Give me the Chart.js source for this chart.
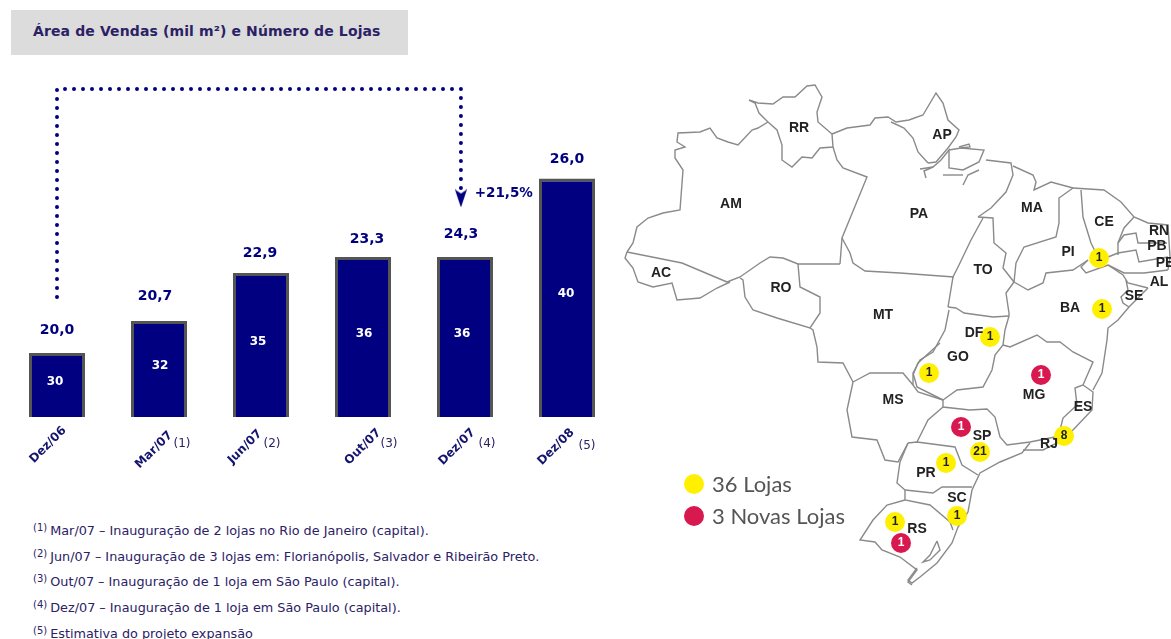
<!DOCTYPE html>
<html lang="pt">
<head>
<meta charset="utf-8">
<title>Área de Vendas e Número de Lojas</title>
<script src="https://cdn.jsdelivr.net/npm/chart.js@4"></script>
<style>
  html, body { margin: 0; padding: 0; background: #fff; width: 1171px; height: 639px; overflow: hidden; }
  canvas { position: absolute; }
  /* both canvases stick out by 20px, the padding has to beat chart.js' point overflow */
  #bars { left: -20px; top: 0; }
  #map { left: 600px; top: 60px; }
  .title {
    position: absolute; left: 11px; top: 10px; width: 397px; height: 45px; background: #dcdcdc;
    font: bold 14px "DejaVu Sans", sans-serif; letter-spacing: 0.12px; color: #2b2165; line-height: 43px; padding-left: 22px; box-sizing: border-box;
  }
  .notes { position: absolute; left: 33px; top: 518px; font: 12.8px "DejaVu Sans", sans-serif; color: #2b2165; }
  .notes div { height: 25.7px; line-height: 25.7px; white-space: nowrap; }
  .notes sup { font-size: 10px; line-height: 0; vertical-align: 4px; margin-right: -1px; }
</style>
</head>
<body>
<div class="title">Área de Vendas (mil m²) e Número de Lojas</div>
<canvas id="bars" width="660" height="500"></canvas>
<canvas id="map" width="591" height="560"></canvas>
<div class="notes">
  <div><sup>(1)</sup> Mar/07 – Inauguração de 2 lojas no Rio de Janeiro (capital).</div>
  <div><sup>(2)</sup> Jun/07 – Inauguração de 3 lojas em: Florianópolis, Salvador e Ribeirão Preto.</div>
  <div><sup>(3)</sup> Out/07 – Inauguração de 1 loja em São Paulo (capital).</div>
  <div><sup>(4)</sup> Dez/07 – Inauguração de 1 loja em São Paulo (capital).</div>
  <div><sup>(5)</sup> Estimativa do projeto expansão</div>
</div>
<script>
// Bar chart data
const categories = ["Dez/06", "Mar/07", "Jun/07", "Out/07", "Dez/07", "Dez/08"];
const salesArea = [20.0, 20.7, 22.9, 23.3, 24.3, 26.0];
const storeCounts = [30, 32, 35, 36, 36, 40];
// the source draws bars by store count, but its last bar is taller than its label says
const barLevels = [30, 32, 35, 36, 36, 40.9];
const footnoteMarks = ["", "(1)", "(2)", "(3)", "(4)", "(5)"];
const growthPath = [{ x: 0, y: 33.5 }, { x: 0, y: 46.5 }, { x: 3.96, y: 46.5 }, { x: 3.96, y: 39.66 }];
const growthLabel = "+21,5%";

// Hand placement of the bar labels, the source is not regular about them (px)
const areaLabelShift = [[0, 23], [-4, 25], [-1, 20], [4, 18], [-4, 23], [0, 19]];
const countLabelShift = [-2, 1, -3, 1, -3, -1];
const tickLabelShift = [[-9, 28], [-5, 33], [-16, 30], [0, 30], [-8, 30], [-11, 30]];
const noteLabelShift = [[0, 0], [23, 27], [11, 27], [26, 27], [22, 27], [20, 29]];

// Map data, in the coordinates of the picture
const mapBorders = [
  [[749,100],[758,103],[773,104],[783,97],[795,97],[807,86],[815,85],[822,97],[817,112],[818,122],[832,134],[833,147],[820,148],[812,158],[802,157],[792,167],[782,160],[782,145],[777,130],[768,122],[759,113],[755,103],[749,100]],
  [[768,122],[758,128],[752,130],[738,145],[728,142],[717,138],[710,128],[700,132],[678,133],[677,142],[685,147],[675,150],[675,158],[683,170],[680,210],[663,213],[648,218],[637,227],[633,243],[627,252]],
  [[627,252],[682,263],[727,282]],
  [[627,252],[625,258],[633,268],[638,282],[653,287],[672,283],[677,300],[700,298],[717,288],[730,282]],
  [[727,282],[740,277],[760,263],[770,257],[783,258],[798,264],[840,264]],
  [[740,278],[743,280],[745,297],[753,310],[777,318],[810,328],[820,313],[820,297],[800,287],[798,264]],
  [[810,328],[813,330],[817,347],[818,362],[843,363],[853,382]],
  [[833,147],[837,160],[843,168],[867,177],[842,238],[840,264]],
  [[842,238],[850,253],[853,263],[865,271],[900,273],[954,277]],
  [[832,134],[847,128],[870,125],[875,118],[888,117],[896,122],[909,120],[923,115],[936,93],[943,103],[948,120],[959,130],[956,137],[948,148],[936,162],[928,163]],
  [[891,122],[904,128],[913,138],[918,152],[928,163]],
  [[920,169],[933,167],[941,160],[949,150],[949,168],[963,170],[979,162],[984,150],[961,148],[949,150]],
  [[959,147],[969,144],[970,147],[961,148]],
  [[926,178],[924,171],[933,167]],
  [[943,175],[963,175]],
  [[963,185],[968,175],[979,170]],
  [[986,160],[1011,163],[1013,175],[1006,192],[991,208],[978,217]],
  [[983,218],[971,240],[959,265],[953,277],[948,307]],
  [[978,217],[993,218],[994,243],[1006,253],[1003,268],[1014,282]],
  [[1013,166],[1033,175],[1036,182],[1034,190],[1051,182],[1073,188]],
  [[1073,188],[1059,198],[1059,223],[1056,237],[1024,247],[1016,263],[1014,282]],
  [[1081,190],[1083,217],[1091,243],[1098,257]],
  [[1073,188],[1104,190],[1121,202],[1134,217],[1148,223],[1168,225],[1170,257],[1168,270]],
  [[1134,217],[1124,228],[1118,243],[1118,255]],
  [[1118,243],[1124,235],[1136,233],[1138,243],[1148,243],[1167,243]],
  [[1108,257],[1118,253],[1136,250],[1139,262],[1168,257]],
  [[1108,265],[1124,273],[1144,273],[1168,270]],
  [[1014,282],[1028,290],[1043,283],[1046,273],[1073,270],[1088,260]],
  [[1088,260],[1081,267],[1086,273],[1108,265],[1123,275],[1128,283],[1148,288]],
  [[1126,280],[1128,290],[1121,297],[1123,303],[1129,307]],
  [[1148,288],[1129,307],[1118,320],[1108,328],[1107,340],[1102,373],[1093,390]],
  [[1014,282],[1006,293],[1009,313],[1009,316],[1005,330],[1003,345],[995,355],[992,370],[983,387],[957,390],[943,400]],
  [[948,307],[956,308],[964,313],[993,317],[1009,316]],
  [[949,310],[945,330],[933,352],[920,360],[913,373],[917,387],[943,400]],
  [[1003,345],[1010,347],[1037,335],[1047,342],[1060,342],[1073,352],[1093,362],[1083,385],[1075,388],[1077,405],[1063,418],[1060,430]],
  [[1083,385],[1093,392],[1092,410],[1073,430],[1063,437],[1057,443],[1043,450],[1023,450]],
  [[1030,443],[1022,453],[1000,462],[980,473],[972,490],[968,512],[958,527],[952,543],[937,563],[920,577],[912,583],[908,580],[917,568]],
  [[1055,437],[1030,442],[1007,445],[1000,437],[995,417],[987,409],[970,410],[943,407],[943,400]],
  [[943,407],[928,420],[917,442]],
  [[908,443],[917,442],[955,447],[962,465],[978,475]],
  [[972,487],[942,487],[933,493],[905,490]],
  [[908,443],[900,462],[897,483],[905,490],[905,500],[930,505],[950,522],[953,530]],
  [[905,500],[887,505],[873,520],[860,540],[875,542],[882,550],[900,557],[917,570],[908,582],[912,585]],
  [[937,541],[930,555],[923,562],[930,560],[940,550],[937,541]],
  [[853,382],[870,373],[903,373],[913,385],[918,392],[943,400]],
  [[853,382],[847,410],[852,437],[877,440],[885,460],[898,462],[908,443]],
  [[913,385],[913,375],[918,363],[940,343]],
];
const stateNames = ["AM", "RR", "AP", "PA", "MA", "CE", "RN", "PB", "PE", "AL", "SE", "PI", "BA", "TO", "AC", "RO", "MT", "DF", "GO", "MS", "MG", "ES", "RJ", "SP", "PR", "SC", "RS"];
const stateLabelX = [731, 799, 942, 919, 1032, 1104, 1159, 1157, 1165, 1159, 1134, 1068, 1070, 983, 661, 781, 883, 974, 958, 893, 1034, 1083, 1049, 982, 926, 957, 917];
const stateLabelY = [204, 128, 135, 214, 208, 222, 231, 246, 263, 282, 296, 252, 308, 270, 273, 288, 315, 333, 357, 400, 395, 407, 444, 436, 473, 498, 529];
const storeX = [1099, 1102, 990, 929, 980, 1064, 946, 957, 895];
const storeY = [258, 309, 337, 373, 452, 436, 463, 516, 522];
const storeNums = [1, 1, 1, 1, 21, 8, 1, 1, 1];
const newStoreX = [961, 1041, 901];
const newStoreY = [427, 375, 543];
const newStoreNums = [1, 1, 1];
const legendItems = ["36 Lojas", "3 Novas Lojas"];
const legendX = [694, 694];
const legendY = [484, 516];

const navy = "#000080";

// narrow arrow head for the end of the dotted path
const arrowHead = document.createElement("canvas");
arrowHead.width = 12;
arrowHead.height = 18;
const arrowCtx = arrowHead.getContext("2d");
arrowCtx.fillStyle = navy;
arrowCtx.beginPath();
arrowCtx.moveTo(0, 0);
arrowCtx.lineTo(6, 4);
arrowCtx.lineTo(12, 0);
arrowCtx.lineTo(6, 18);
arrowCtx.closePath();
arrowCtx.fill();

const barLabels = {
  id: "barLabels",
  afterDatasetsDraw(chart) {
    const { ctx, scales } = chart;
    const x = scales.x, y = scales.y;
    ctx.save();
    ctx.textAlign = "center";
    ctx.textBaseline = "middle";
    categories.forEach((cat, i) => {
      const cx = x.getPixelForValue(i);
      const top = y.getPixelForValue(barLevels[i]);
      const bottom = y.getPixelForValue(y.min);

      ctx.fillStyle = navy;
      ctx.font = 'bold 14px "DejaVu Sans", sans-serif';
      ctx.fillText(salesArea[i].toFixed(1).replace(".", ","), cx + areaLabelShift[i][0], top - areaLabelShift[i][1]);

      ctx.fillStyle = "#fff";
      ctx.font = 'bold 12px "DejaVu Sans", sans-serif';
      ctx.fillText(String(storeCounts[i]), cx + countLabelShift[i], (top + bottom) / 2 - 3.5);

      ctx.save();
      ctx.translate(cx + tickLabelShift[i][0], bottom + tickLabelShift[i][1]);
      ctx.rotate(-Math.PI / 4);
      ctx.fillStyle = "#14146e";
      ctx.font = 'bold 12px "DejaVu Sans", sans-serif';
      ctx.fillText(cat, 0, 0);
      ctx.restore();

      if (footnoteMarks[i]) {
        ctx.fillStyle = "#2b2165";
        ctx.font = '12px "DejaVu Sans", sans-serif';
        ctx.fillText(footnoteMarks[i], cx + noteLabelShift[i][0], bottom + noteLabelShift[i][1]);
      }
    });
    ctx.fillStyle = navy;
    ctx.font = 'bold 13.5px "DejaVu Sans", sans-serif';
    ctx.fillText(growthLabel, scales.x2.getPixelForValue(4.38), y.getPixelForValue(39.94));
    ctx.restore();
  },
};

new Chart(document.getElementById("bars"), {
  type: "bar",
  data: {
    labels: categories,
    datasets: [
      {
        type: "line",
        data: growthPath,
        xAxisID: "x2",
        borderColor: navy,
        borderWidth: 4,
        borderDash: [0, 9],
        borderCapStyle: "round",
        tension: 0,
        pointStyle: arrowHead,
        pointRadius: [0, 0, 0, 9],
        pointBorderWidth: 0,
        clip: false,
      },
      {
        type: "bar",
        xAxisID: "x",
        data: barLevels,
        backgroundColor: navy,
        borderColor: "#555555",
        borderWidth: 3,
        borderSkipped: false,
        grouped: false,
        barPercentage: 56 / 102,
        categoryPercentage: 1,
      },
    ],
  },
  options: {
    responsive: false,
    animation: false,
    layout: { padding: { left: 26, right: 22, top: 81, bottom: 83 } },
    plugins: { legend: { display: false }, tooltip: { enabled: false } },
    scales: {
      x: { display: false },
      x2: { type: "linear", display: false, offset: false, min: -0.5, max: 5.5 },
      y: { display: false, min: 26, max: 47 },
    },
  },
  plugins: [barLabels],
});

const mapLabels = {
  id: "mapLabels",
  afterDatasetsDraw(chart) {
    const { ctx, scales } = chart;
    const px = (v) => scales.x.getPixelForValue(v);
    const py = (v) => scales.y.getPixelForValue(v);
    ctx.save();
    ctx.textAlign = "center";
    ctx.textBaseline = "middle";
    ctx.fillStyle = "#222";
    ctx.font = 'bold 14px "Liberation Sans", sans-serif';
    stateNames.forEach((s, i) => ctx.fillText(s, px(stateLabelX[i]), py(stateLabelY[i])));

    ctx.font = 'bold 12px "Liberation Sans", sans-serif';
    storeNums.forEach((n, i) => ctx.fillText(String(n), px(storeX[i]), py(storeY[i])));
    ctx.fillStyle = "#fff";
    newStoreNums.forEach((n, i) => ctx.fillText(String(n), px(newStoreX[i]), py(newStoreY[i])));

    ctx.textAlign = "left";
    ctx.fillStyle = "#555";
    ctx.font = '22px "Lato", sans-serif';
    legendItems.forEach((t, i) => ctx.fillText(t, px(legendX[i] + 18), py(legendY[i] + 1)));
    ctx.restore();
  },
};

const toPoints = (xs, ys) => xs.map((x, i) => ({ x, y: ys[i] }));
const markerSet = (xs, ys, color) => ({
  data: toPoints(xs, ys),
  showLine: false,
  pointRadius: 10,
  pointBackgroundColor: color,
  pointBorderWidth: 0,
});

new Chart(document.getElementById("map"), {
  type: "scatter",
  data: {
    datasets: [
      markerSet(newStoreX, newStoreY, "#d8194f"),
      markerSet(storeX, storeY, "#fff000"),
      markerSet(legendX.slice(0, 1), legendY.slice(0, 1), "#fff000"),
      markerSet(legendX.slice(1), legendY.slice(1), "#d8194f"),
      ...mapBorders.map((line) => ({
        data: line.map(([x, y]) => ({ x, y })),
        showLine: true,
        borderColor: "#8a8a8a",
        borderWidth: 1.4,
        pointRadius: 0,
        tension: 0,
      })),
    ],
  },
  options: {
    responsive: false,
    animation: false,
    layout: { padding: 20 },
    plugins: { legend: { display: false }, tooltip: { enabled: false } },
    scales: {
      x: { type: "linear", display: false, min: 620, max: 1171 },
      y: { type: "linear", display: false, min: 80, max: 600, reverse: true },
    },
  },
  plugins: [mapLabels],
});
</script>
</body>
</html>
